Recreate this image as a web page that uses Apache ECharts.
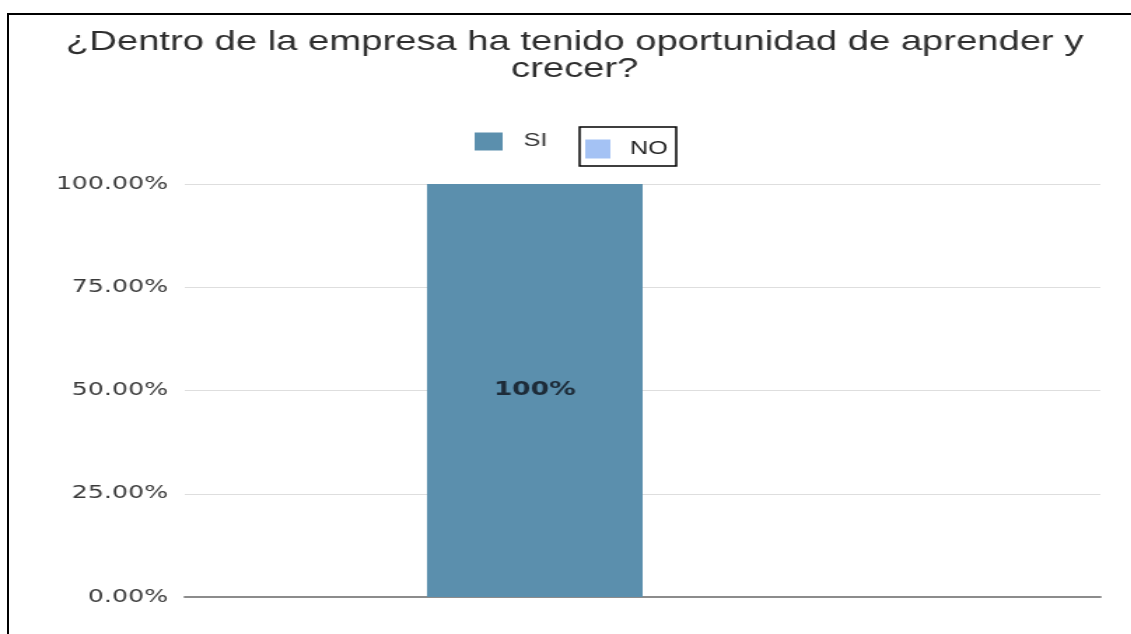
<!DOCTYPE html>
<html>
<head>
<meta charset="utf-8">
<script src="https://cdn.jsdelivr.net/npm/echarts@6/dist/echarts.min.js"></script>
<style>
  html, body { margin: 0; padding: 0; background: #fff; overflow: hidden; width: 1131px; height: 634px; }
  #frame { position: absolute; left: 7px; top: 13px; width: 1300px; height: 800px;
           border-top: 2px solid #000; border-left: 2px solid #000; box-sizing: border-box; }
  /* chart is laid out narrow and widened horizontally */
  #chart { position: absolute; left: 0; top: 0; width: 808px; height: 634px;
           transform: scaleX(1.4); transform-origin: 0 0; }
</style>
</head>
<body>
<div id="frame"></div>
<div id="chart"></div>
<script>
const chartTitle = '¿Dentro de la empresa ha tenido oportunidad de aprender y\ncrecer?';
const categories = ['Oportunidad de aprender y crecer'];
const seriesNames = ['SI', 'NO'];
const siValues = [1.0];
const noValues = [0];
const yMin = 0;
const yMax = 1;
const yInterval = 0.25;

const chart = echarts.init(document.getElementById('chart'));

const pct2 = v => (v * 100).toFixed(2) + '%';
const pct0 = p => Math.round(p.value * 100) + '%';

chart.setOption({
  animation: false,
  backgroundColor: 'transparent',
  title: {
    text: chartTitle,
    left: 410.5,
    top: 29,
    padding: 0,
    textAlign: 'center',
    textStyle: {
      fontFamily: 'Liberation Sans',
      fontSize: 27.3,
      fontWeight: 'normal',
      color: '#2e2e2e',
      lineHeight: 26.7
    }
  },
  legend: [
    {
      data: [seriesNames[0]],
      left: 339,
      top: 131.5,
      padding: 0,
      icon: 'rect',
      itemWidth: 20,
      itemHeight: 18,
      selectedMode: false,
      textStyle: {
        fontFamily: 'Liberation Sans',
        fontSize: 18,
        color: '#333',
        lineHeight: 20,
        padding: [0, 0, 0, 10]
      }
    },
    {
      data: [seriesNames[1]],
      left: 414,
      top: 127,
      padding: [12, 6, 7, 4],
      borderColor: '#000',
      borderWidth: 1.5,
      backgroundColor: '#fff',
      icon: 'rect',
      itemWidth: 18,
      itemHeight: 19,
      selectedMode: false,
      textStyle: {
        fontFamily: 'Liberation Sans',
        fontSize: 18,
        color: '#222',
        lineHeight: 20,
        padding: [0, 0, 0, 9]
      }
    }
  ],
  grid: { left: 132, right: 22, top: 184, bottom: 37 },
  xAxis: {
    type: 'category',
    data: categories,
    axisLine: { lineStyle: { color: '#8c8c8c', width: 2 } },
    axisTick: { show: false },
    axisLabel: { show: false }
  },
  yAxis: {
    type: 'value',
    min: yMin,
    max: yMax,
    interval: yInterval,
    axisLine: { show: false },
    axisTick: { show: false },
    axisLabel: {
      formatter: pct2,
      fontFamily: 'DejaVu Sans',
      fontSize: 18,
      color: '#3a3a3a',
      margin: 12
    },
    splitLine: { lineStyle: { color: '#dedede', width: 1 } }
  },
  series: [
    {
      name: seriesNames[0],
      type: 'bar',
      data: siValues,
      barWidth: 154,
      barGap: '0%',
      itemStyle: { color: '#5b8fad' },
      label: {
        show: true,
        position: 'inside',
        formatter: pct0,
        fontFamily: 'DejaVu Sans',
        fontWeight: 'bold',
        fontSize: 19,
        color: '#1d2b38'
      }
    },
    {
      name: seriesNames[1],
      type: 'bar',
      data: noValues,
      barWidth: 154,
      barGap: '0%',
      itemStyle: { color: '#a4c2f4' }
    }
  ]
});
</script>
</body>
</html>
